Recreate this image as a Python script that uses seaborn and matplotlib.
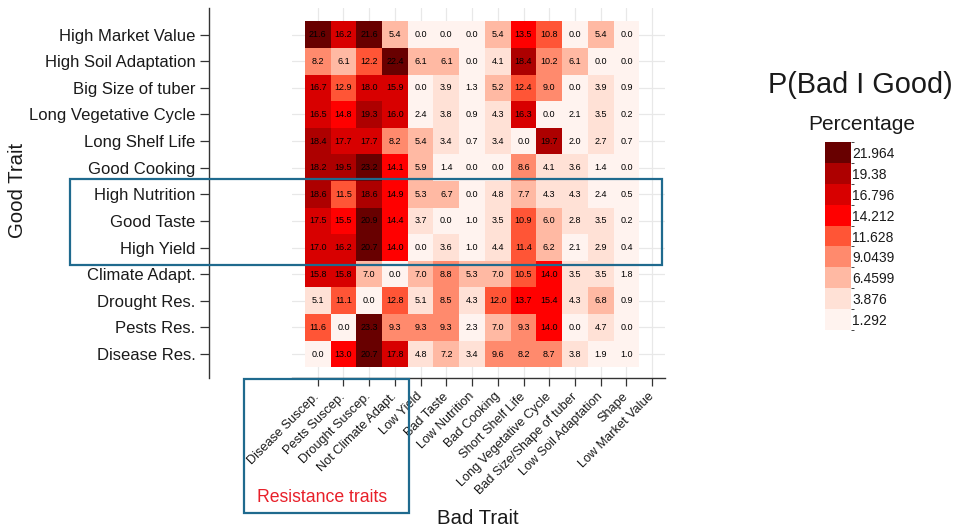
import numpy as np
import pandas as pd
import matplotlib
matplotlib.use("Agg")
import matplotlib.pyplot as plt
from matplotlib.colors import ListedColormap, BoundaryNorm
from matplotlib.patches import Rectangle
import seaborn as sns

# ---- data -----------------------------------------------------------------
good_traits = [
    "High Market Value", "High Soil Adaptation", "Big Size of tuber",
    "Long Vegetative Cycle", "Long Shelf Life", "Good Cooking",
    "High Nutrition", "Good Taste", "High Yield", "Climate Adapt.",
    "Drought Res.", "Pests Res.", "Disease Res.",
]
bad_traits = [
    "Disease Suscep.", "Pests Suscep.", "Drought Suscep.", "Not Climate Adapt.",
    "Low Yield", "Bad Taste", "Low Nutrition", "Bad Cooking", "Short Shelf Life",
    "Long Vegetative Cycle", "Bad Size/Shape of tuber", "Low Soil Adaptation",
    "Shape", "Low Market Value",
]

# P(bad | good) in percent, one list per good trait (no values for Low Market Value)
high_market_value = [21.6, 16.2, 21.6, 5.4, 0.0, 0.0, 0.0, 5.4, 13.5, 10.8, 0.0, 5.4, 0.0]
high_soil_adaptation = [8.2, 6.1, 12.2, 22.4, 6.1, 6.1, 0.0, 4.1, 18.4, 10.2, 6.1, 0.0, 0.0]
big_size_of_tuber = [16.7, 12.9, 18.0, 15.9, 0.0, 3.9, 1.3, 5.2, 12.4, 9.0, 0.0, 3.9, 0.9]
long_vegetative_cycle = [16.5, 14.8, 19.3, 16.0, 2.4, 3.8, 0.9, 4.3, 16.3, 0.0, 2.1, 3.5, 0.2]
long_shelf_life = [18.4, 17.7, 17.7, 8.2, 5.4, 3.4, 0.7, 3.4, 0.0, 19.7, 2.0, 2.7, 0.7]
good_cooking = [18.2, 19.5, 23.2, 14.1, 5.9, 1.4, 0.0, 0.0, 8.6, 4.1, 3.6, 1.4, 0.0]
high_nutrition = [18.6, 11.5, 18.6, 14.9, 5.3, 6.7, 0.0, 4.8, 7.7, 4.3, 4.3, 2.4, 0.5]
good_taste = [17.5, 15.5, 20.9, 14.4, 3.7, 0.0, 1.0, 3.5, 10.9, 6.0, 2.8, 3.5, 0.2]
high_yield = [17.0, 16.2, 20.7, 14.0, 0.0, 3.6, 1.0, 4.4, 11.4, 6.2, 2.1, 2.9, 0.4]
climate_adapt = [15.8, 15.8, 7.0, 0.0, 7.0, 8.8, 5.3, 7.0, 10.5, 14.0, 3.5, 3.5, 1.8]
drought_res = [5.1, 11.1, 0.0, 12.8, 5.1, 8.5, 4.3, 12.0, 13.7, 15.4, 4.3, 6.8, 0.9]
pests_res = [11.6, 0.0, 23.3, 9.3, 9.3, 9.3, 2.3, 7.0, 9.3, 14.0, 0.0, 4.7, 0.0]
disease_res = [0.0, 13.0, 20.7, 17.8, 4.8, 7.2, 3.4, 9.6, 8.2, 8.7, 3.8, 1.9, 1.0]

# discrete legend levels (bin centres) and their labels
level_centers = [1.292, 3.876, 6.4599, 9.0439, 11.628, 14.212, 16.796, 19.38, 21.964]
level_labels = ["1.292", "3.876", "6.4599", "9.0439", "11.628", "14.212",
                "16.796", "19.38", "21.964"]
level_colors = ["#fff3ef", "#ffe1d6", "#ffb9a3", "#ff8a6d", "#ff5536",
                "#ff0000", "#d80000", "#ad0000", "#680000"]

# ---- build table -----------------------------------------------------------
rows = [high_market_value, high_soil_adaptation, big_size_of_tuber,
        long_vegetative_cycle, long_shelf_life, good_cooking, high_nutrition,
        good_taste, high_yield, climate_adapt, drought_res, pests_res, disease_res]
df = pd.DataFrame(rows, index=good_traits, columns=bad_traits[:len(rows[0])])
df = df.reindex(columns=bad_traits)

half = (level_centers[1] - level_centers[0]) / 2
bounds = [c - half for c in level_centers] + [level_centers[-1] + half]
cmap = ListedColormap(level_colors)
norm = BoundaryNorm(bounds, cmap.N, clip=True)

# ---- figure ----------------------------------------------------------------
sns.set_style("white")
plt.rcParams["font.family"] = ["Liberation Sans", "DejaVu Sans"]
text_col = "#1a1a1a"

W, H = 958, 532
fig = plt.figure(figsize=(W / 100, H / 100), dpi=100)
ax = fig.add_axes([292 / W, 1 - 378 / H, 373 / W, 370 / H])
cax = fig.add_axes([825 / W, 1 - 330 / H, 26 / W, 188 / H])

sns.heatmap(df, ax=ax, cbar_ax=cax, cmap=cmap, norm=norm,
            annot=True, fmt=".1f",
            annot_kws={"size": 6.5, "color": "black"},
            xticklabels=True, yticklabels=True,
            cbar_kws={"ticks": level_centers})

ax.set_xlim(-0.5, len(bad_traits))
ax.set_ylim(len(good_traits) + 0.4, -0.5)

# light grid behind the cells
ax.grid(True, color="#e8e8e8", lw=0.9)
ax.set_axisbelow(True)

for side in ("top", "right"):
    ax.spines[side].set_visible(False)
for side in ("left", "bottom"):
    ax.spines[side].set_visible(True)
    ax.spines[side].set_color("#333333")
    ax.spines[side].set_linewidth(1.0)
ax.spines["left"].set_position(("outward", 60))

ax.tick_params(axis="y", length=6.5, width=0.9, pad=3, labelsize=12,
               color="#333333", labelcolor=text_col, left=True)
ax.tick_params(axis="x", length=6, width=0.9, pad=6, labelsize=9.2,
               color="#333333", labelcolor=text_col, bottom=True)
ax.set_yticklabels(good_traits, rotation=0)
ax.set_xticklabels(bad_traits, rotation=45, ha="right", va="center",
                   rotation_mode="anchor")

ax.set_xlabel("Bad Trait", fontsize=14.7, color=text_col)
ax.set_ylabel("Good Trait", fontsize=14.7, color=text_col)
ax.xaxis.set_label_coords((478 - 292) / 373, -(518 - 378) / 370)
ax.xaxis.label.set_verticalalignment("center")
ax.yaxis.set_label_coords((18 - 292) / 373, (378 - 190) / 370)
ax.yaxis.label.set_verticalalignment("center")

# colour legend
cax.set_yticks(level_centers, labels=level_labels)
cax.tick_params(length=0, pad=1, labelsize=10, labelcolor=text_col)
for sp in cax.spines.values():
    sp.set_visible(False)

fig.text(860 / W, 1 - 85 / H, "P(Bad I Good)", fontsize=20.8,
         ha="center", va="center", color=text_col)
fig.text(862 / W, 1 - 125 / H, "Percentage", fontsize=15,
         ha="center", va="center", color=text_col)

# highlight boxes
box_col = "#1f6a8e"
fig.add_artist(Rectangle((70 / W, 1 - 265 / H), 592 / W, 86 / H,
                         transform=fig.transFigure, fill=False,
                         edgecolor=box_col, lw=1.6))
fig.add_artist(Rectangle((244 / W, 1 - 513 / H), 165 / W, 134 / H,
                         transform=fig.transFigure, fill=False,
                         edgecolor=box_col, lw=1.6))
fig.text(322 / W, 1 - 498 / H, "Resistance traits", fontsize=12.7,
         color="#e8202a", ha="center", va="center")

fig.savefig("out.png", dpi=100)
